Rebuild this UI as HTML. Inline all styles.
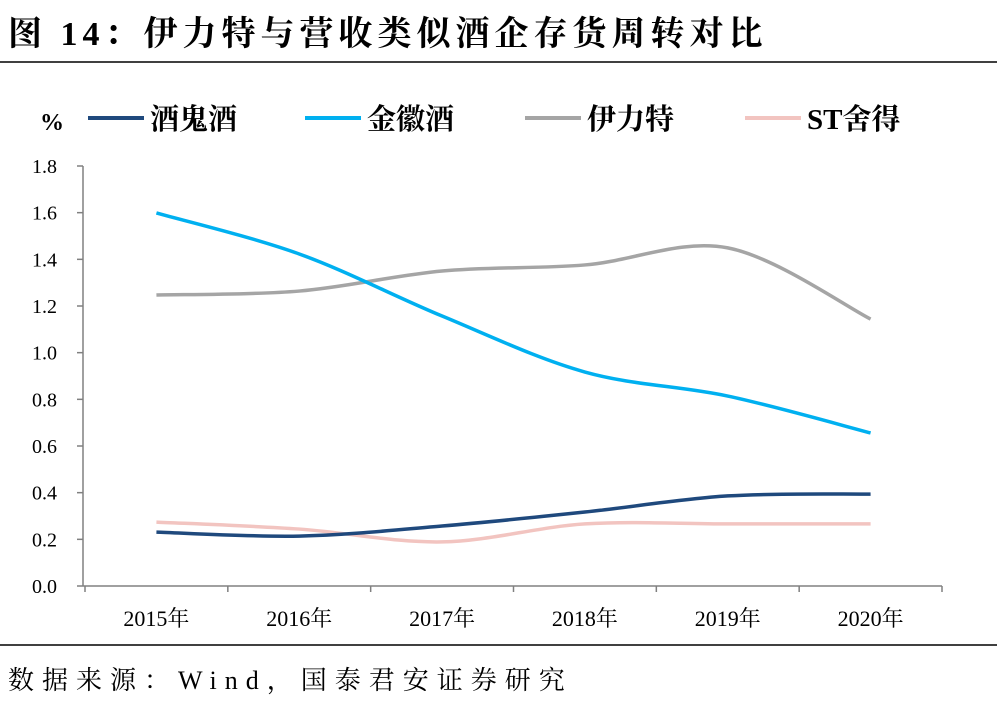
<!DOCTYPE html>
<html><head><meta charset="utf-8"><style>
body{margin:0;background:#fff;width:997px;height:706px;overflow:hidden;font-family:"Liberation Serif","Noto Serif CJK SC",serif}
</style></head><body>
<svg id="c" width="997" height="706" xmlns="http://www.w3.org/2000/svg">
<text x="8" y="45" font-size="34" letter-spacing="5" font-weight="bold" font-family="Liberation Serif, Noto Serif CJK SC, serif">图 14：伊力特与营收类似酒企存货周转对比</text>
<line x1="0" y1="62" x2="997" y2="62" stroke="#000" stroke-width="1.5"/>
<line x1="0" y1="645" x2="997" y2="645" stroke="#000" stroke-width="1.5"/>
<text x="8" y="689" font-size="26" letter-spacing="8" font-family="Liberation Serif, Noto Serif CJK SC, serif">数据来源：Wind，国泰君安证券研究</text>
<text x="40" y="130" font-size="24" font-weight="bold">%</text>
<g id="plot"></g>
</svg>
<script>
const categories=["2015年","2016年","2017年","2018年","2019年","2020年"];
const seriesNames=["酒鬼酒","金徽酒","伊力特","ST舍得"];
const jiuguijiu=[0.231,0.214,0.257,0.317,0.386,0.394];
const jinhuijiu=[1.599,1.423,1.157,0.917,0.814,0.656];
const yilite=[1.247,1.264,1.350,1.376,1.449,1.144];
const shede=[0.274,0.244,0.189,0.266,0.266,0.266];
const yTicks=[0,0.2,0.4,0.6,0.8,1.0,1.2,1.4,1.6,1.8];
const colors=["#1f497d","#00b0f0","#a5a5a5","#f2c4c0"];
const NS="http://www.w3.org/2000/svg";
const g=document.getElementById('plot');
const x0=85,x1=942,yb=586,yt=166;
const xs=i=>x0+(x1-x0)/categories.length*(i+0.5);
const ys=v=>yb-(v/1.8)*(yb-yt);
function mk(t,a){const e=document.createElementNS(NS,t);for(const k in a)e.setAttribute(k,a[k]);g.appendChild(e);return e;}
let e=mk('line',{x1:83,y1:yt,x2:83,y2:yb,stroke:'#808080','stroke-width':1.5});


e=mk('line',{x1:83,y1:yb,x2:x1,y2:yb,stroke:'#808080','stroke-width':1.5});


yTicks.forEach(v=>{
 const y=ys(v);
 let t=mk('line',{x1:77,y1:y,x2:83,y2:y,stroke:'#808080','stroke-width':1.5});
 
 
 let l=mk('text',{x:57,y:y+7,'font-size':20,'text-anchor':'end'});l.textContent=v.toFixed(1);
 
 
});
const step=(x1-x0)/categories.length;
for(let i=0;i<=categories.length;i++){
 let t=mk('line',{x1:x0+step*i,y1:yb,x2:x0+step*i,y2:yb+6,stroke:'#808080','stroke-width':1.5});
 
 
}
categories.forEach((c,i)=>{
 let l=mk('text',{x:xs(i),y:yb+40,'font-size':22,'text-anchor':'middle'});l.textContent=c;
 
 
});
function smooth(vals){
 const p=vals.map((v,i)=>[xs(i),ys(v)]);
 let d=`M${p[0][0]},${p[0][1]}`;
 for(let i=0;i<p.length-1;i++){
  const a=p[i-1]||p[i],b=p[i],c=p[i+1],n=p[i+2]||c;
  const c1=[b[0]+(c[0]-a[0])/6,b[1]+(c[1]-a[1])/6],c2=[c[0]-(n[0]-b[0])/6,c[1]-(n[1]-b[1])/6];
  d+=` C${c1[0]},${c1[1]} ${c2[0]},${c2[1]} ${c[0]},${c[1]}`;
 }
 return d;
}
const all=[jiuguijiu,jinhuijiu,yilite,shede];
[2,1,3,0].forEach(k=>{
 const p=mk('path',{d:smooth(all[k]),fill:'none',stroke:colors[k],'stroke-width':3.5});
 
 
});
const lx=[88,305,525,745];
seriesNames.forEach((n,k)=>{
 const l=mk('line',{x1:lx[k],y1:118,x2:lx[k]+56,y2:118,stroke:colors[k],'stroke-width':4});
 
 
 const t=mk('text',{x:lx[k]+62,y:129,'font-size':29,'font-weight':'bold'});t.textContent=n;
 
 
});
</script>
</body></html>
